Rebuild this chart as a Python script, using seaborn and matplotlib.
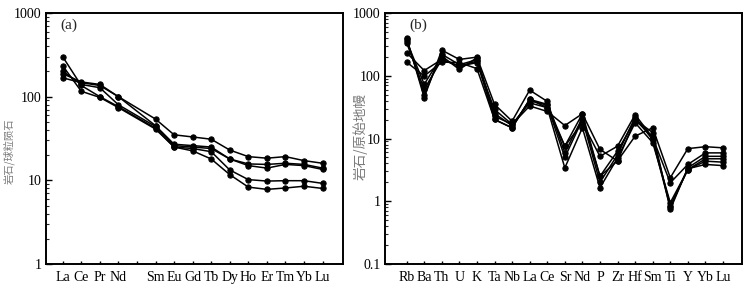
import numpy as np
import pandas as pd
import matplotlib
matplotlib.use("Agg")
import matplotlib.pyplot as plt
import seaborn as sns
from matplotlib.ticker import LogLocator, NullFormatter, FixedLocator

sns.set_theme(style="white")
plt.rcParams['font.family'] = ['Liberation Serif', 'DejaVu Serif']
plt.rcParams['mathtext.fontset'] = 'stix'

# ---------- Panel (a): REE chondrite-normalised ----------
ree_labels = ["La", "Ce", "Pr", "Nd", "", "Sm", "Eu", "Gd", "Tb", "Dy", "Ho", "Er", "Tm", "Yb", "Lu"]
ree_elems = ["La", "Ce", "Pr", "Nd", "Sm", "Eu", "Gd", "Tb", "Dy", "Ho", "Er", "Tm", "Yb", "Lu"]
ree_s1 = [188, 150, 140, 100, 54, 35, 33, 31, 23, 19.2, 18.4, 19.2, 17.2, 16.0]
ree_s2 = [168, 147, 136, 100, 45, 27, 26, 25, 18, 15.7, 15.5, 16.0, 15.5, 14.0]
ree_s3 = [202, 140, 128, 80, 44, 26, 25, 24, 18, 15.0, 14.0, 15.5, 15.0, 13.5]
ree_s4 = [300, 136, 100, 76, 42, 25, 24, 22, 13.3, 10.2, 9.8, 9.9, 9.9, 9.2]
ree_s5 = [234, 116, 98, 74, 41, 25, 22.5, 18, 11.7, 8.3, 7.8, 8.1, 8.5, 8.0]

# ---------- Panel (b): primitive-mantle normalised spider ----------
sp_labels = ["Rb", "Ba", "Th", "U", "K", "Ta", "Nb", "La", "Ce", "Sr", "Nd", "P",
             "Zr", "Hf", "Sm", "Ti", "Y", "Yb", "Lu"]
sp_s1 = [233, 121, 182, 142, 162, 29, 16.8, 33, 27, 16.1, 24.8, 6.7, 4.4, 10.9, 14.8, 2.37, 6.9, 7.4, 7.1]
sp_s2 = [165, 99, 165, 162, 130, 20.1, 14.8, 42, 35, 7.55, 17.8, 5.2, 7.55, 24, 10.3, 1.97, 3.86, 5.9, 5.9]
sp_s3 = [403, 45, 256, 182, 198, 35, 18.9, 59, 39, 5.9, 21.4, 2.5, 6.3, 20, 12.4, 0.74, 3.42, 5.2, 5.2]
sp_s4 = [356, 73, 206, 126, 194, 22.7, 16.8, 37, 31, 3.4, 14.8, 1.64, 4.9, 17.8, 8.6, 0.95, 3.2, 4.75, 4.75]
sp_s5 = [336, 61, 182, 142, 171, 20.1, 14.8, 42, 31, 7.55, 24.8, 2.5, 4.4, 20, 10.3, 0.85, 3.2, 4.35, 4.2]
sp_s6 = [380, 50, 220, 150, 180, 25, 16, 40, 34, 5.0, 20, 2.0, 5.5, 22, 9.5, 0.80, 3.3, 3.86, 3.7]

ree_series = [ree_s1, ree_s2, ree_s3, ree_s4, ree_s5]
sp_series = [sp_s1, sp_s2, sp_s3, sp_s4, sp_s5, sp_s6]

rows = []
for i, s in enumerate(ree_series):
    for el, v in zip(ree_elems, s):
        rows.append({"sample": i, "pos": ree_labels.index(el), "val": v})
df_a = pd.DataFrame(rows)

rows = []
for i, s in enumerate(sp_series):
    for j, v in enumerate(s):
        rows.append({"sample": i, "pos": j, "val": v})
df_b = pd.DataFrame(rows)

fig = plt.figure(figsize=(7.48, 2.92), dpi=100)
ax1 = fig.add_axes([46 / 748, 1 - 264 / 292, 297 / 748, 251 / 292])
ax2 = fig.add_axes([385 / 748, 1 - 264 / 292, 357 / 748, 251 / 292])

for ax, df in [(ax1, df_a), (ax2, df_b)]:
    sns.lineplot(data=df, x="pos", y="val", units="sample", estimator=None,
                 color="black", marker="o", markersize=3.8, markeredgecolor="black",
                 linewidth=1.1, ax=ax, legend=False, sort=False)
    ax.set_yscale("log")
    ax.set_xlabel("")
    ax.set_ylabel("")
    for sp in ax.spines.values():
        sp.set_visible(True)
        sp.set_color("black")
        sp.set_linewidth(1.4)
    ax.yaxis.set_major_locator(LogLocator(base=10))
    ax.yaxis.set_minor_locator(LogLocator(base=10, subs=np.arange(2, 10)))
    ax.yaxis.set_minor_formatter(NullFormatter())
    ax.tick_params(axis="y", which="major", direction="in", length=4, width=1,
                   left=True, right=False, labelsize=10, pad=3, colors="black")
    ax.tick_params(axis="y", which="minor", direction="in", length=2, width=0.8,
                   left=True, right=False)
    ax.tick_params(axis="x", which="major", direction="in", length=2.5, width=1,
                   bottom=True, top=False, labelsize=10, pad=5, colors="black")
    ax.set_facecolor("white")
    ax.grid(False)

ax1.set_xlim(-0.9, 15.1)
ax1.set_ylim(1, 1000)
ax1.xaxis.set_major_locator(FixedLocator(range(len(ree_labels))))
ax1.set_xticklabels(ree_labels)
ax1.set_yticks([1, 10, 100, 1000])
ax1.set_yticklabels(["1", "10", "100", "1000"])

ax2.set_xlim(-1.23, 19.08)
ax2.set_ylim(0.1, 1000)
ax2.xaxis.set_major_locator(FixedLocator(range(len(sp_labels))))
ax2.set_xticklabels(sp_labels)
ax2.set_yticks([0.1, 1, 10, 100, 1000])
ax2.set_yticklabels(["0.1", "1", "10", "100", "1000"])

ax1.text(0.047, 0.95, "(a)", transform=ax1.transAxes, fontsize=11, va="center", ha="left")
ax2.text(0.068, 0.95, "(b)", transform=ax2.transAxes, fontsize=11, va="center", ha="left")

fig.text(9 / 748, 1 - 151 / 292, "岩石/球粒陨石", rotation=90, ha="center", va="center",
         fontsize=7.4, color="#7a7a7a", family=["Noto Sans CJK SC", "DejaVu Sans"])
fig.text(360 / 748, 1 - 136 / 292, "岩石/原始地幔", rotation=90, ha="center", va="center",
         fontsize=9.8, color="#7a7a7a", family=["Noto Sans CJK SC", "DejaVu Sans"])

fig.savefig("out.png", dpi=100, facecolor="white")
